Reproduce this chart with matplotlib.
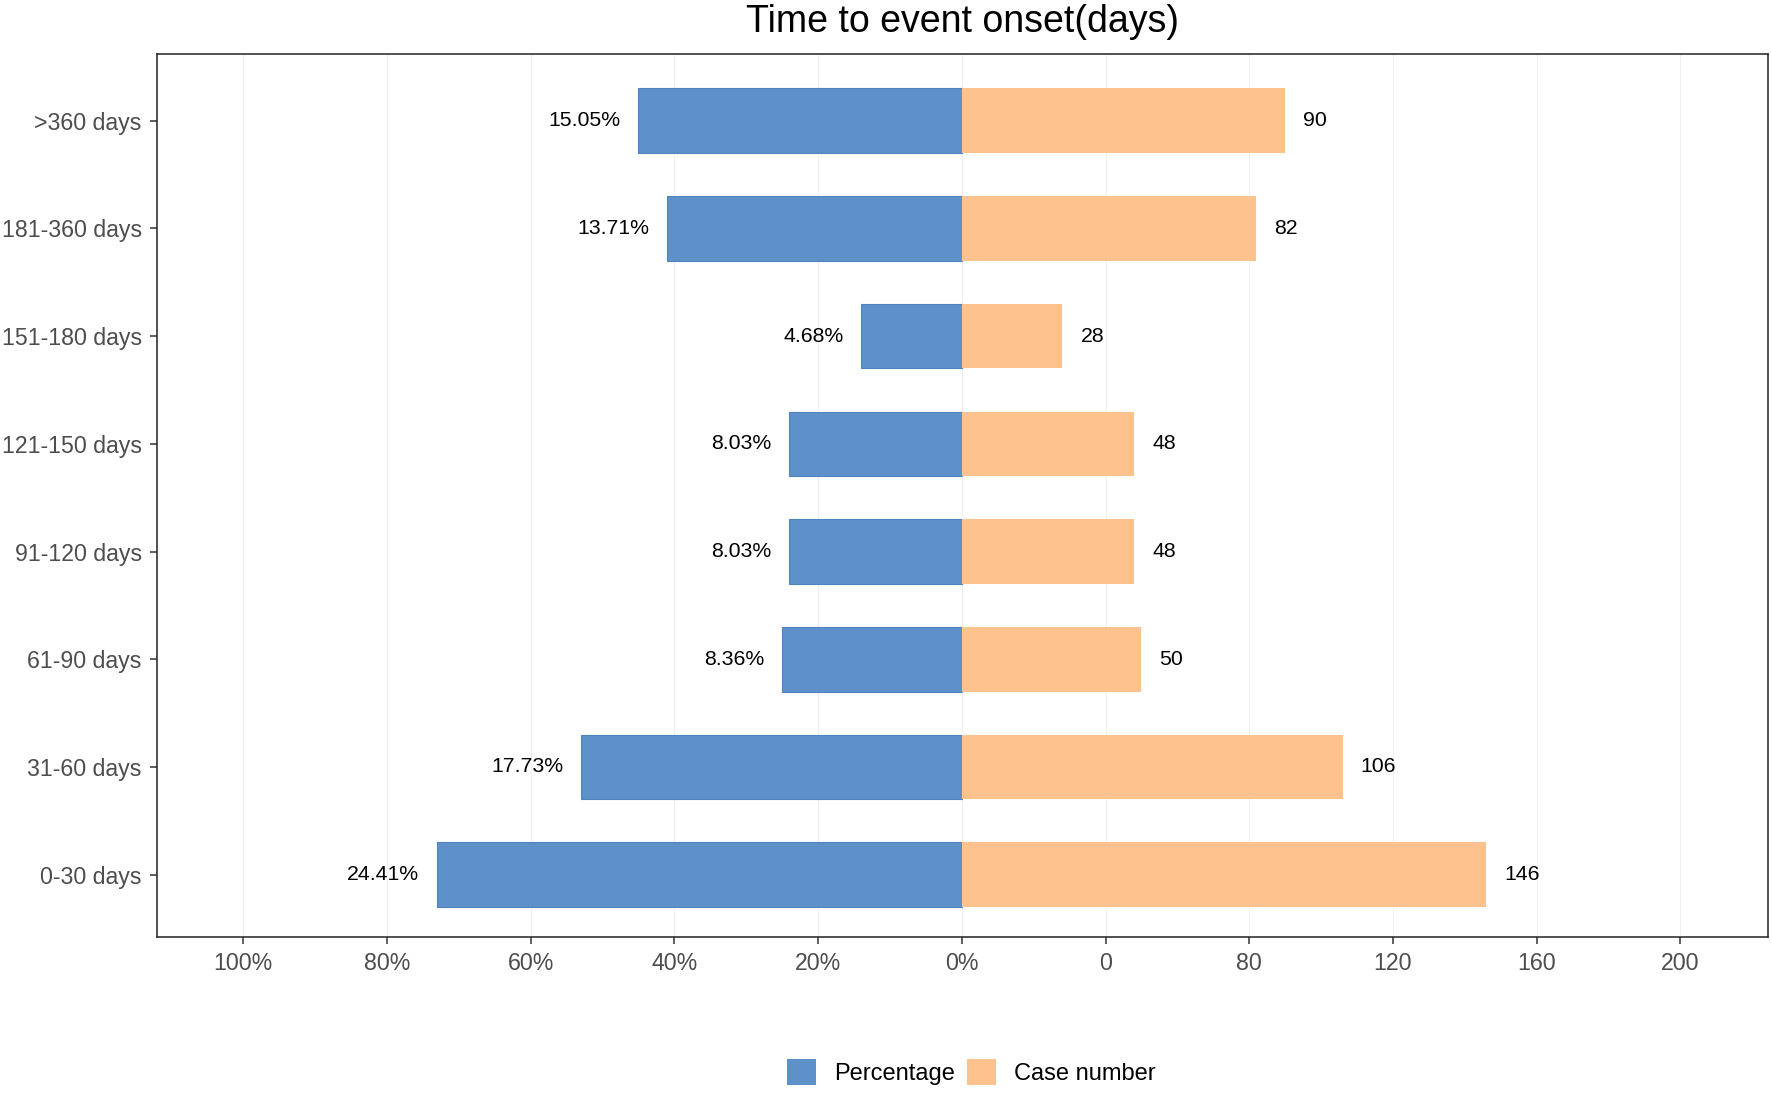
import numpy as np
import matplotlib
matplotlib.use("Agg")
import matplotlib.pyplot as plt
from matplotlib.patches import Patch

plt.rcParams['font.family'] = ['Liberation Sans', 'DejaVu Sans']

# data (bottom to top)
categories = ["0-30 days", "31-60 days", "61-90 days", "91-120 days",
              "121-150 days", "151-180 days", "181-360 days", ">360 days"]
case_number = [146, 106, 50, 48, 48, 28, 82, 90]
percentage = [24.41, 17.73, 8.36, 8.03, 8.03, 4.68, 13.71, 15.05]

# x axis ticks as printed in the original figure
tick_pos = [-200, -160, -120, -80, -40, 0, 40, 80, 120, 160, 200]
tick_labels = ["100%", "80%", "60%", "40%", "20%", "0%", "0", "80", "120", "160", "200"]

blue = "#5E91C9"
orange = "#FDC28D"

fig = plt.figure(figsize=(17.72, 10.93), dpi=100)
ax = fig.add_axes([0.0886, 0.1427, 0.9094, 0.8079])

y = np.arange(1, len(categories) + 1)
n = np.array(case_number)

ax.barh(y, -n, height=0.6, color=blue, edgecolor="#5183BE", linewidth=0.8, zorder=3)
ax.barh(y, n, height=0.6, color=orange, edgecolor="none", zorder=3)

off = 5
for yi, ni, pi in zip(y, n, percentage):
    ax.text(-ni - off, yi, "%.2f%%" % pi, ha="right", va="center",
            fontsize=15.3, color="black")
    ax.text(ni + off, yi, "%d" % ni, ha="left", va="center",
            fontsize=15.3, color="black")

ax.set_xlim(-224, 224.5)
ax.set_ylim(0.42, 8.62)
ax.set_yticks(y)
ax.set_yticklabels(categories)
ax.set_xticks(tick_pos)
ax.set_xticklabels(tick_labels)

ax.grid(axis="x", color="#F0F0F0", linewidth=0.8, zorder=0)
ax.grid(axis="y", visible=False)
ax.set_axisbelow(True)

ax.tick_params(axis="both", labelsize=16.7, labelcolor="#4D4D4D",
               color="#333333", length=5, width=1.1, pad=6)
for s in ax.spines.values():
    s.set_color("#222222")
    s.set_linewidth(1.1)

fig.text(0.0886 + 0.9094 / 2, 0.98, "Time to event onset(days)",
         ha="center", va="center", fontsize=27, color="black")

handles = [Patch(facecolor=blue, edgecolor="none", label="Percentage"),
           Patch(facecolor=orange, edgecolor="none", label="Case number")]
fig.legend(handles=handles, loc="center", bbox_to_anchor=(0.548, 0.019),
           ncol=2, frameon=False, fontsize=17, handlelength=1.25,
           handleheight=1.35, handletextpad=0.75, columnspacing=0.5,
           borderpad=0.2)

fig.savefig("out.png", dpi=100)
